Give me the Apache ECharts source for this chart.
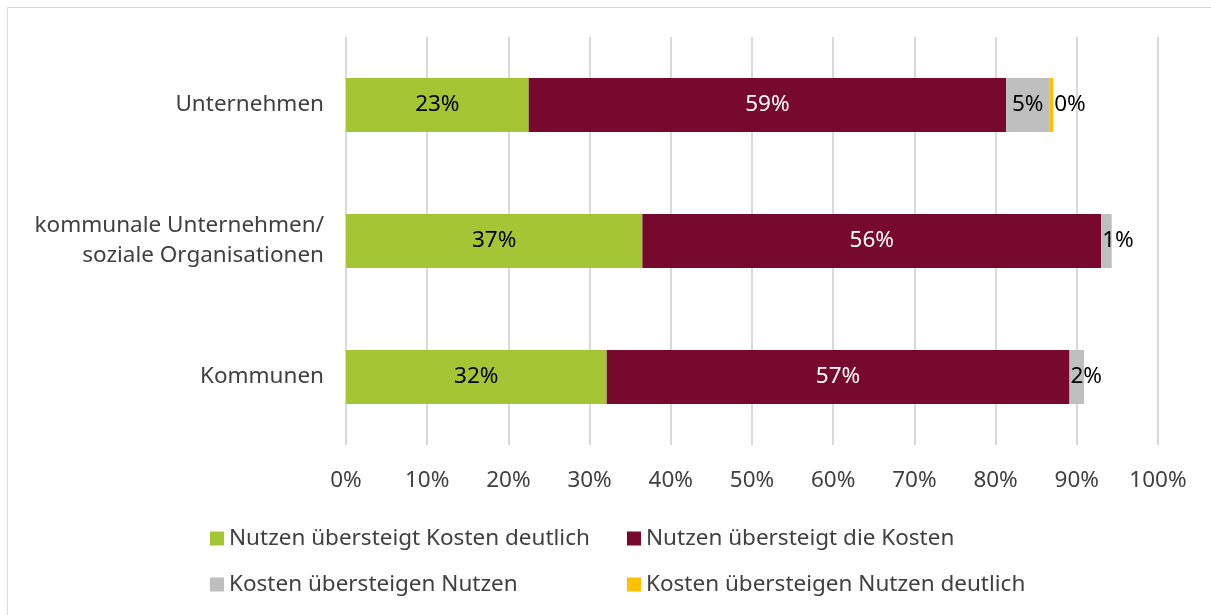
<!DOCTYPE html>
<html><head><meta charset="utf-8">
<script src="https://cdn.jsdelivr.net/npm/echarts@6/dist/echarts.min.js"></script>
<style>html,body{margin:0;padding:0;background:#fff}#c{width:1211px;height:615px}</style>
</head><body><div id="c"></div>
<script>
const categories = ['Kommunen', 'kommunale Unternehmen/\nsoziale Organisationen', 'Unternehmen'];
const seriesNames = ['Nutzen übersteigt Kosten deutlich', 'Nutzen übersteigt die Kosten', 'Kosten übersteigen Nutzen', 'Kosten übersteigen Nutzen deutlich'];
const nutzenDeutlich = [32.1, 36.5, 22.5];
const nutzen = [57.0, 56.5, 58.8];
const kosten = [1.8, 1.3, 5.3];
const kostenDeutlich = [0, 0, 0.5];
const labelTexts = [
  ['32%', '37%', '23%'],
  ['57%', '56%', '59%'],
  ['2%', '1%', '5%'],
  ['', '', '0%']
];
const colors = ['#a5c634', '#77092e', '#bfbfbf', '#ffc000'];
const labelColors = ['#000', '#fff', '#000', '#000'];
const FONT = 'Noto Sans';
const FS = 22.5;
const values = [nutzenDeutlich, nutzen, kosten, kostenDeutlich];

const series = values.map((arr, si) => ({
  name: seriesNames[si],
  type: 'bar',
  stack: 'total',
  barWidth: 54,
  itemStyle: { color: colors[si] },
  data: arr.map((v, i) => {
    const d = { value: v };
    const txt = labelTexts[si][i];
    let pos = 'inside', dist = 5;
    if (si === 2 && i < 2) { pos = 'insideLeft'; dist = 1; }
    if (si === 3) { pos = 'right'; dist = 1; }
    d.label = { show: txt !== '', position: pos, distance: dist, formatter: () => txt,
      color: labelColors[si], fontFamily: FONT, fontSize: FS };
    return d;
  })
}));

const legendLeft = [205, 622, 205, 622];
const legendTop = [522, 522, 568, 568];
const legends = seriesNames.map((n, i) => ({
  data: [n], left: legendLeft[i], top: legendTop[i], itemWidth: 14, itemHeight: 14,
  icon: 'rect', itemGap: 6, textStyle: { fontFamily: FONT, fontSize: FS, color: '#404040' }, selectedMode: false
}));

const chart = echarts.init(document.getElementById('c'));
chart.setOption({
  animation: false,
  graphic: [{ type: 'rect', shape: { x: 7.5, y: 7.5, width: 1210, height: 620 }, style: { fill: 'none', stroke: '#d9d9d9', lineWidth: 1 } }],
  grid: { left: 346, right: 53, top: 37, bottom: 170 },
  legend: legends,
  xAxis: {
    type: 'value', min: 0, max: 100, interval: 10,
    axisLabel: { formatter: '{value}%', fontFamily: FONT, fontSize: FS, color: '#404040', margin: 24 },
    splitLine: { lineStyle: { color: '#d9d9d9', width: 2 } },
    axisLine: { show: false }, axisTick: { show: false }
  },
  yAxis: {
    type: 'category', data: categories,
    axisLabel: { fontFamily: FONT, fontSize: FS, color: '#404040', margin: 22, lineHeight: 30, align: 'right' },
    axisLine: { show: false }, axisTick: { show: false }
  },
  series: series
});
</script></body></html>
